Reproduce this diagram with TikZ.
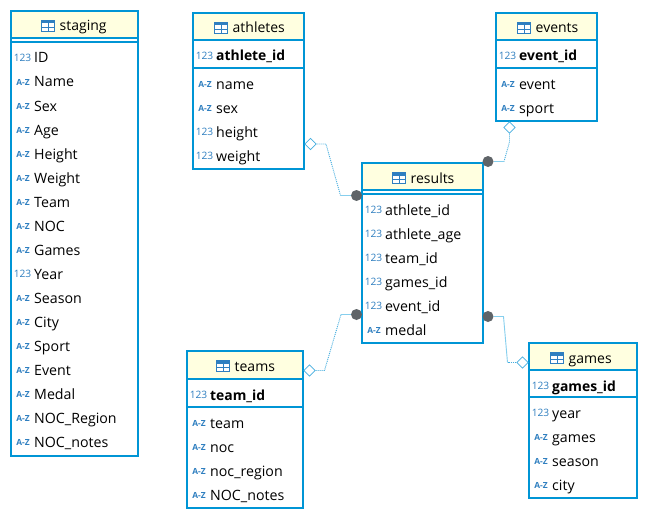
\documentclass[tikz,border=0pt]{standalone}
\usepackage{fontspec}
\setmainfont{Open Sans}
\usetikzlibrary{shapes.geometric}
\definecolor{edgeblue}{HTML}{0095D5}
\definecolor{headfill}{HTML}{FFFFE0}
\definecolor{iconblue}{HTML}{2F7FC0}
\definecolor{linklight}{HTML}{86CFEE}
\definecolor{linkdot}{HTML}{45AEDF}
\definecolor{dotgray}{HTML}{5F6468}
\tikzset{
  x=1pt,y=-1pt,
  box/.style={draw=edgeblue,line width=2.4pt,fill=white,inner sep=0pt,anchor=north west,outer sep=0pt},
  head/.style={fill=headfill,draw=none,inner sep=0pt,anchor=north west,outer sep=0pt},
  rule/.style={edgeblue,line width=1.2pt},
  title/.style={font=\fontsize{14}{14}\selectfont,anchor=base west,inner sep=0pt,text=black},
  field/.style={font=\fontsize{14.2}{14}\selectfont,anchor=base west,inner sep=0pt,text=black},
  pk/.style={field,font=\fontsize{13.9}{14}\selectfont\bfseries},
  typ/.style={font=\fontsize{10.2}{10}\selectfont,anchor=base,inner sep=0pt,text=iconblue},
  typaz/.style={font=\fontsize{8.4}{8}\selectfont\bfseries,anchor=base,inner sep=0pt,text=iconblue},
  diam/.style={diamond,draw=linkdot,fill=white,line width=0.8pt,minimum width=11.5pt,minimum height=11.5pt,inner sep=0pt},
  blob/.style={circle,fill=dotgray,draw=none,minimum size=11pt,inner sep=0pt},
  solidlink/.style={linklight,line width=0.9pt},
  dotlink/.style={linkdot,line width=0.9pt,dash pattern=on 1pt off 1pt},
}
% name, x0, y0, x1, y1, header bottom, title, icon x
\newcommand{\tbl}[8]{%
  \pgfmathsetmacro{\boxw}{#4-#2}\pgfmathsetmacro{\boxh}{#5-#3}\pgfmathsetmacro{\headh}{#6-#3}%
  \node[box,minimum width=\boxw pt,minimum height=\boxh pt] (#1) at (#2,#3) {};
  \node[head,minimum width=\boxw pt - 2pt,minimum height=\headh pt - 1pt] (#1-head) at (#2+1,#3+1) {};
  \draw[rule] (#2,#6) -- (#4,#6);
  \draw[iconblue,line width=1pt,fill=white] (#8,#3+9.5) rectangle (#8+13,#3+20.5);
  \fill[iconblue] (#8,#3+9.5) rectangle (#8+13,#3+12.5);
  \draw[iconblue,line width=0.8pt] (#8,#3+16.2) -- (#8+13,#3+16.2) (#8+6.5,#3+12) -- (#8+6.5,#3+20.5);
  \node[title] (#1-title) at (#8+18,#3+20) {#7};
  \draw[edgeblue,line width=2.4pt] (#1.north west) rectangle (#1.south east);
}
% table, key, x0, y, text
\newcommand{\nrow}[5]{\node[typ] (#1-#2-t) at (#3+11.5,#4+3.5) {123};\node[field] (#1-#2) at (#3+23,#4+5) {#5};}
\newcommand{\arow}[5]{\node[typaz] (#1-#2-t) at (#3+12,#4+3.5) {A-Z};\node[field] (#1-#2) at (#3+23,#4+5) {#5};}
\newcommand{\prow}[5]{\node[typ] (#1-#2-t) at (#3+11.5,#4+3.5) {123};\node[pk] (#1-#2) at (#3+23,#4+5) {#5};}
\begin{document}
\begin{tikzpicture}
\useasboundingbox (0,0) rectangle (648,519);
\fill[white] (0,0) rectangle (648,519);

\tbl{staging}{11}{11}{138}{456}{38}{staging}{41.5}
\draw[rule] (11,42) -- (138,42);
\nrow{staging}{a}{11}{58}{ID}
\arow{staging}{b}{11}{82}{Name}
\arow{staging}{c}{11}{106}{Sex}
\arow{staging}{d}{11}{130}{Age}
\arow{staging}{e}{11}{154}{Height}
\arow{staging}{f}{11}{178}{Weight}
\arow{staging}{g}{11}{202}{Team}
\arow{staging}{h}{11}{226}{NOC}
\arow{staging}{i}{11}{250}{Games}
\nrow{staging}{j}{11}{274}{Year}
\arow{staging}{k}{11}{298}{Season}
\arow{staging}{l}{11}{322}{City}
\arow{staging}{m}{11}{346}{Sport}
\arow{staging}{n}{11}{370}{Event}
\arow{staging}{o}{11}{394}{Medal}
\arow{staging}{p}{11}{418}{NOC\_Region}
\arow{staging}{q}{11}{442}{NOC\_notes}

\tbl{athletes}{193}{13}{304}{169}{40}{athletes}{214.5}
\draw[rule] (193,68) -- (304,68);
\prow{athletes}{a}{193}{56}{athlete\_id}
\arow{athletes}{b}{193}{84}{name}
\arow{athletes}{c}{193}{108}{sex}
\nrow{athletes}{d}{193}{132}{height}
\nrow{athletes}{e}{193}{156}{weight}

\tbl{events}{496}{13}{597}{121}{40}{events}{517.5}
\draw[rule] (496,68) -- (597,68);
\prow{events}{a}{496}{56}{event\_id}
\arow{events}{b}{496}{84}{event}
\arow{events}{c}{496}{108}{sport}

\tbl{results}{362}{163}{483}{343}{190}{results}{392.5}
\draw[rule] (362,194) -- (483,194);
\nrow{results}{a}{362}{210}{athlete\_id}
\nrow{results}{b}{362}{234}{athlete\_age}
\nrow{results}{c}{362}{258}{team\_id}
\nrow{results}{d}{362}{282}{games\_id}
\nrow{results}{e}{362}{306}{event\_id}
\arow{results}{f}{362}{330}{medal}

\tbl{teams}{187}{351}{303}{508}{379}{teams}{216.5}
\draw[rule] (187,407) -- (303,407);
\prow{teams}{a}{187}{395}{team\_id}
\arow{teams}{b}{187}{423}{team}
\arow{teams}{c}{187}{447}{noc}
\arow{teams}{d}{187}{471}{noc\_region}
\arow{teams}{e}{187}{495}{NOC\_notes}

\tbl{games}{529}{343}{637}{498}{370}{games}{550.5}
\draw[rule] (529,397) -- (637,397);
\prow{games}{a}{529}{386}{games\_id}
\nrow{games}{b}{529}{413}{year}
\arow{games}{c}{529}{437}{games}
\arow{games}{d}{529}{461}{season}
\arow{games}{e}{529}{485}{city}

% connectors
\coordinate (b1) at (326,144);
\coordinate (b2) at (340.5,195.5);
\node[diam] (da) at (310.5,144) {};
\node[blob] (ca) at (356.5,195.5) {};
\draw[dotlink] (da) -- (b1) -- (b2);
\draw[solidlink] (b2) -- (ca);

\coordinate (b3) at (509.5,142);
\coordinate (b4) at (504,161.5);
\node[diam] (de) at (509.5,127.5) {};
\node[blob] (ce) at (488,161.5) {};
\draw[dotlink] (de) -- (b3) -- (b4);
\draw[solidlink] (b4) -- (ce);

\coordinate (b5) at (324.5,370.5);
\coordinate (b6) at (341,314.5);
\node[diam] (dt) at (309.5,370.5) {};
\node[blob] (ct) at (356.5,314.5) {};
\draw[dotlink] (dt) -- (b5) -- (b6);
\draw[solidlink] (b6) -- (ct);

\coordinate (b7) at (503.5,316.5);
\coordinate (b8) at (507.5,362.5);
\node[diam] (dg) at (522.5,362.5) {};
\node[blob] (cg) at (488,316.5) {};
\draw[dotlink] (dg) -- (b8);
\draw[solidlink] (b8) -- (b7) -- (cg);
\end{tikzpicture}
\end{document}
